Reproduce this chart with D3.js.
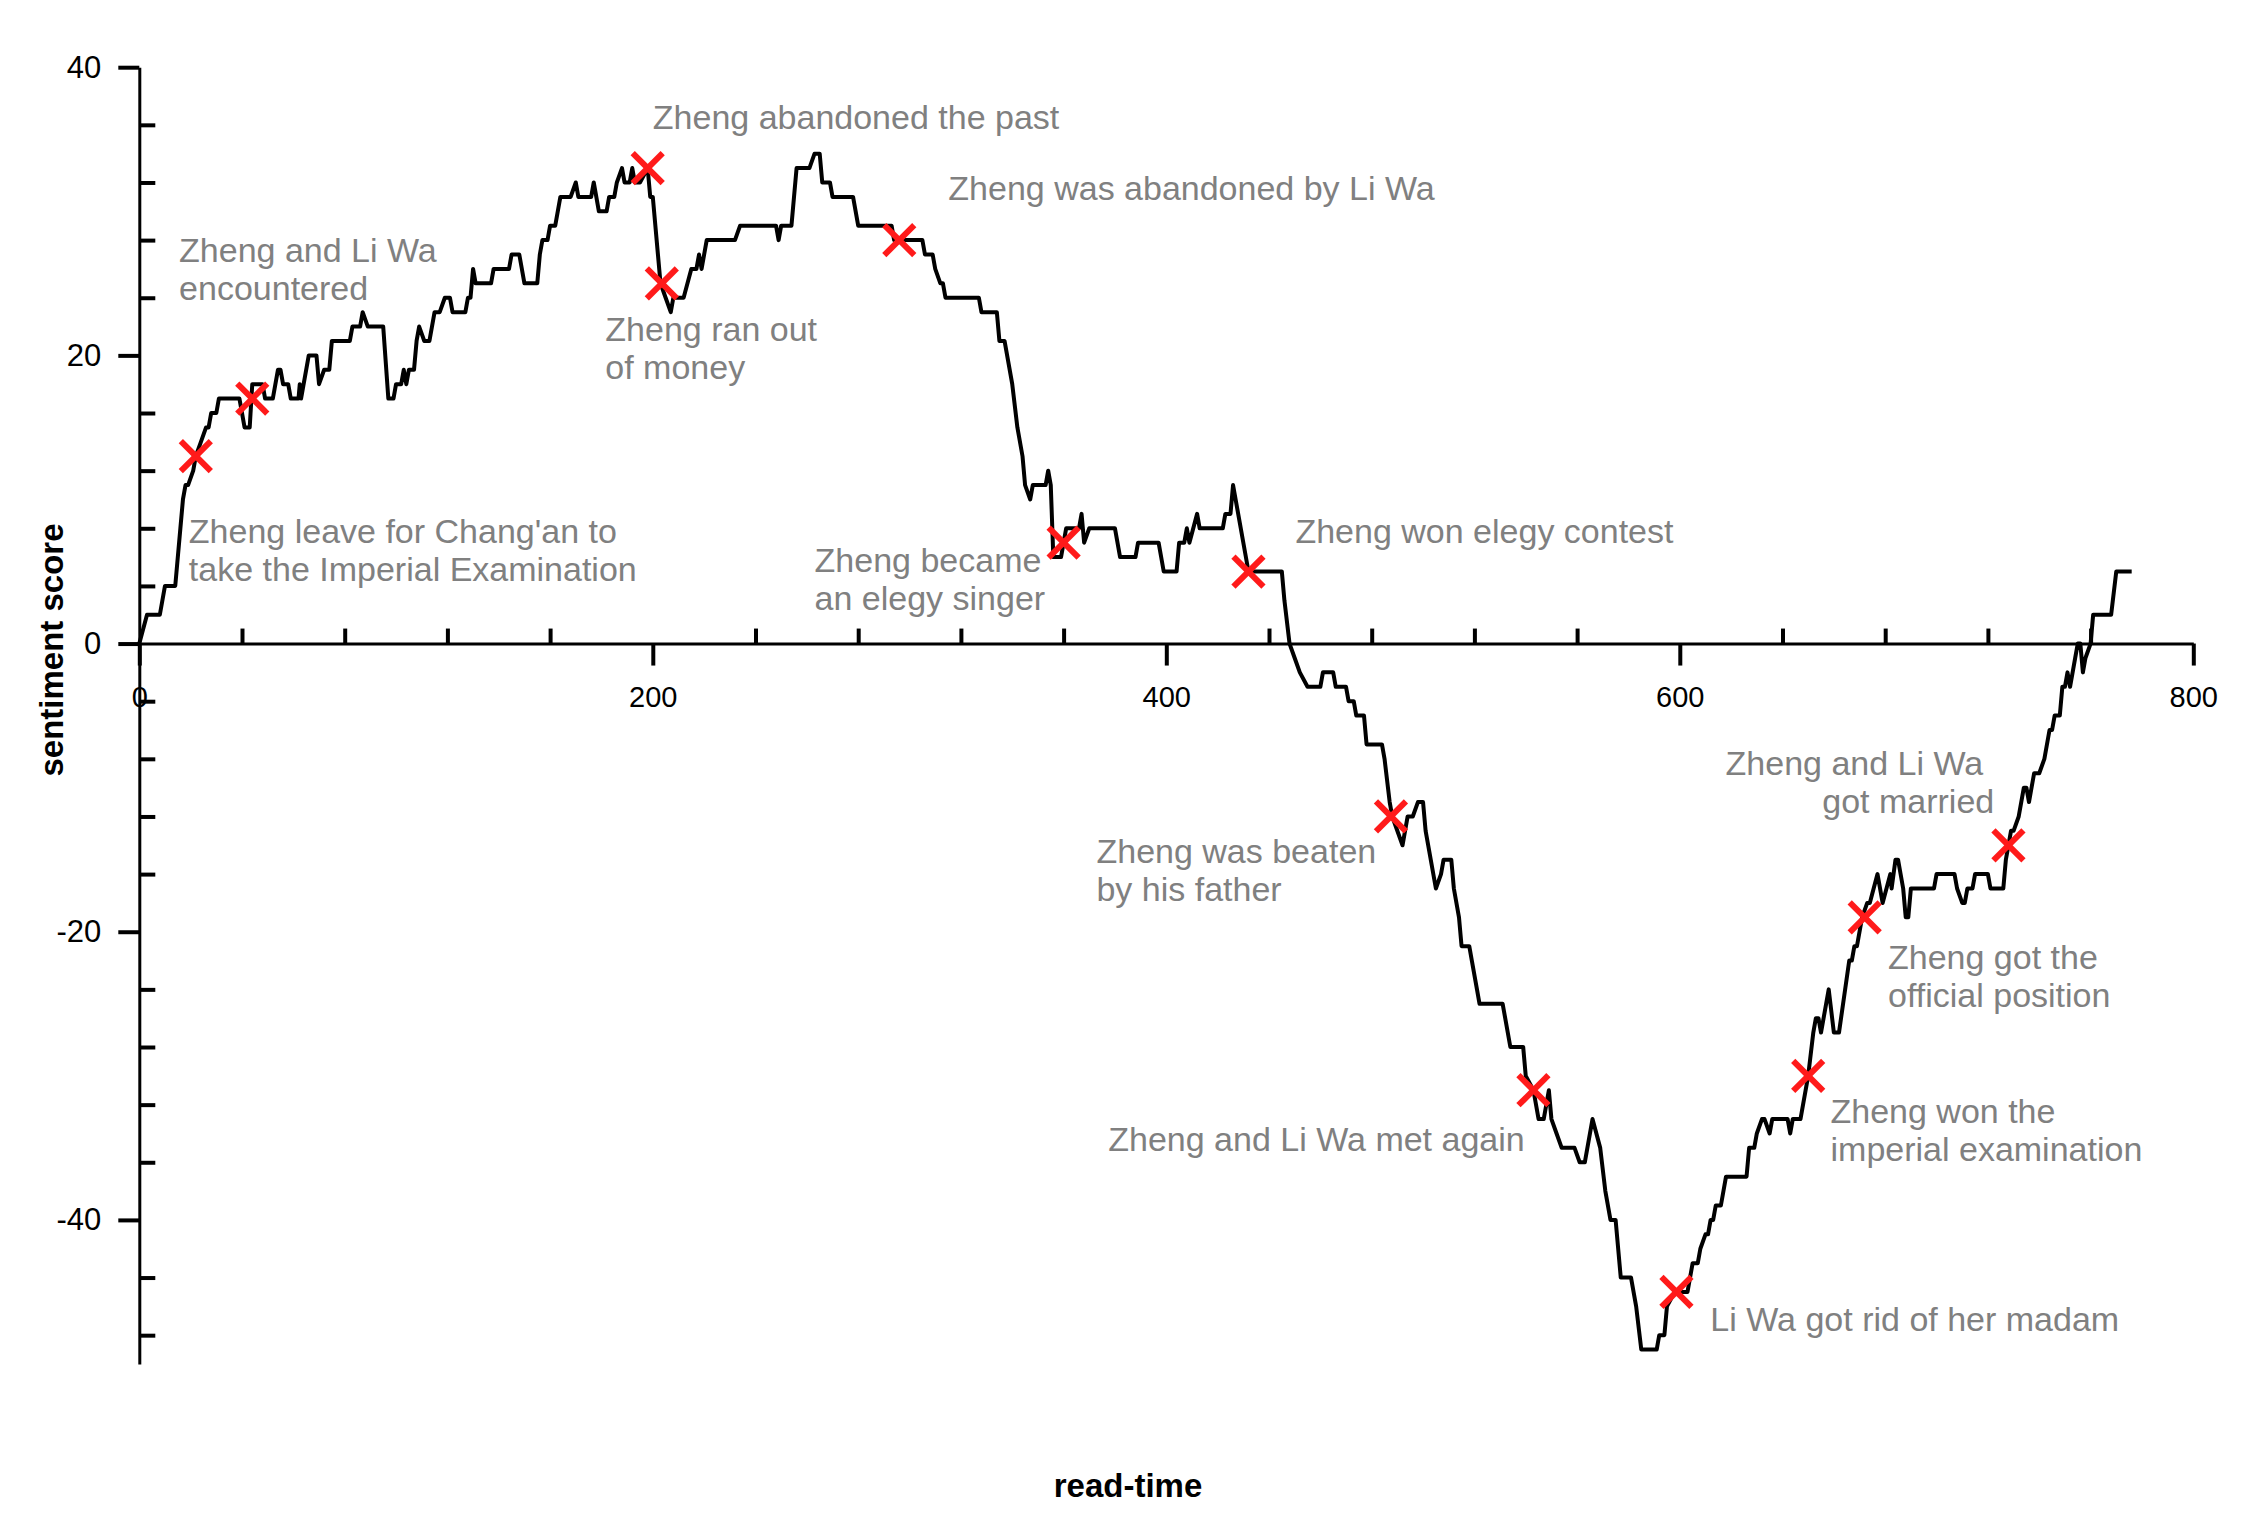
<!DOCTYPE html>
<html>
<head>
<meta charset="utf-8">
<script src="https://cdn.jsdelivr.net/npm/d3@7"></script>
<style>
  html, body { margin: 0; padding: 0; background: #fff; }
  svg { display: block; }
  text { font-family: Arial, "Liberation Sans", sans-serif; }
</style>
</head>
<body>
<svg id="chart" width="2250" height="1539"></svg>
<script>
// ---------------- data ----------------
const readTime = [0,3,8,10,14,16,17,18,19,21,22,24,26,27,28,30,31,39,41,43,44,48,49,52,54,55,56,58,59,62,62.5,63,66,69,70,72,74,75,82,83,86,87,89,95,97,99,100,102,103,104,105,107,108,109,111,113,115,117,119,121,122,127,128,129,130,131,137,138,144,145,148,150,155,156,157,159,160,162,164,168,170,171,176,177,179,182,183,185,186,188,189,191,192,193,195,198,199,200,202,203,205,207,208,212,215,217,218,219,221,232,234,248,249,250,254,256,261,263,265,266,269,270,278,280,293,294,305,306,309,310,312,313,314,327,328,334,335,337,340,342,344,345,347,348,353,354,355,356,359,361,366,367,368,370,380,382,388,389,397,399,404,405,407,408,409,412,413,422,423,425,426,428,432,445,446,448,450,452,455,460,461,465,466,470,471,473,474,477,478,484,485,487,488,492,494,496,498,500,501,505,507,508,511,512,514,515,518,519,521,522,531,534,539,540,543,545,547,549,550,552,554,559,561,563,566,569,571,573,575,577,581,583,585,591,592,594,595,598,603,605,607,608,610,611,612,613,614,616,618,626,627,629,630,632,633,635,636,642,643,644,647,650,652,653,654,655,658,660,662,666,667,668,669,671,673,674,677,679,682,682.5,684,685,687,688,689,690,699,700,707,708,710,711,712,714,715,720,721,726,727,728,729,730,732,734,735,736,738,740,742,744,745,746,748,749,750,751,752,754,755,756,757,758,760,761,768,770,776];
const sentiment = [0,2,2,4,4,8,10,11,11,12,13,14,15,15,16,16,17,17,15,15,18,18,17,17,19,19,18,18,17,17,18,17,20,20,18,19,19,21,21,22,22,23,22,22,17,17,18,18,19,18,19,19,21,22,21,21,23,23,24,24,23,23,24,24,26,25,25,26,26,27,27,25,25,27,28,28,29,29,31,31,32,31,31,32,30,30,31,31,32,33,32,32,33,32,32,33,31,31,27,25,24,23,24,24,26,26,27,26,28,28,29,29,28,29,29,33,33,34,34,32,32,31,31,29,29,28,28,27,27,26,25,25,24,24,23,23,21,21,18,15,13,11,10,11,11,12,11,6,6,8,8,9,7,8,8,6,6,7,7,5,5,7,7,8,7,9,8,8,9,9,11,9,5,5,3,0,-1,-2,-3,-3,-2,-2,-3,-3,-4,-4,-5,-5,-7,-7,-8,-11,-12,-14,-12,-12,-11,-11,-13,-17,-16,-15,-15,-17,-19,-21,-21,-22,-24,-25,-25,-28,-28,-30,-31,-33,-33,-31,-33,-34,-35,-35,-36,-36,-33,-35,-38,-40,-40,-44,-44,-46,-49,-49,-48,-48,-46,-45,-45,-43,-43,-42,-41,-41,-40,-40,-39,-39,-37,-37,-35,-35,-34,-33,-33,-34,-33,-33,-34,-33,-33,-30,-27,-26,-26,-27,-24,-27,-27,-22,-22,-21,-21,-19,-18,-18,-16,-18,-16,-17,-15,-15,-17,-19,-19,-17,-17,-16,-16,-17,-18,-18,-17,-17,-16,-16,-17,-17,-15,-14,-13,-13,-12,-10,-10,-11,-9,-9,-8,-6,-6,-5,-5,-3,-3,-2,-3,-1,0,0,-2,-1,0,2,2,5,5];

const eventTime  = [22, 44, 198, 203.5, 296, 360, 432, 487.5, 543, 598.7, 650, 672, 728];
const eventScore = [13, 17, 33, 25, 28, 7, 5, -12, -31, -45, -30, -19, -14];
const eventLabel = [
  ["Zheng leave for Chang'an to", "take the Imperial Examination"],
  ["Zheng and Li Wa", "encountered"],
  ["Zheng abandoned the past"],
  ["Zheng ran out", "of money"],
  ["Zheng was abandoned by Li Wa"],
  ["Zheng became", "an elegy singer"],
  ["Zheng won elegy contest"],
  ["Zheng was beaten", "by his father"],
  ["Zheng and Li Wa met again"],
  ["Li Wa got rid of her madam"],
  ["Zheng won the", "imperial examination"],
  ["Zheng got the", "official position"],
  ["Zheng and Li Wa", "got married"]
];

const xMajorTicks = [0, 200, 400, 600, 800];
const yMajorTicks = [-40, -20, 0, 20, 40];

// ---------------- layout (label anchors in data units, per-line pixel nudges) ----------------
const labelAt = [
  {x: 19.3, y: 7.0, anchor: "start"},
  {x: 15.5, y: 26.5, anchor: "start"},
  {x: 200.0, y: 35.7, anchor: "start"},
  {x: 181.5, y: 21.0, anchor: "start"},
  {x: 315.1, y: 30.8, anchor: "start"},
  {x: 263.0, y: 5.0, anchor: "start"},
  {x: 450.3, y: 7.0, anchor: "start"},
  {x: 372.8, y: -15.2, anchor: "start"},
  {x: 377.4, y: -35.2, anchor: "start"},
  {x: 611.9, y: -47.7, anchor: "start"},
  {x: 658.7, y: -33.3, anchor: "start"},
  {x: 681.1, y: -22.6, anchor: "start"},
  {x: 721.3, y: -9.1, anchor: "end", nudge: [-8, 3]}
];

// ---------------- drawing ----------------
const svg = d3.select("#chart");
svg.append("rect").attr("width", 2250).attr("height", 1539).attr("fill", "#fff");

const x = d3.scaleLinear().domain([0, 800]).range([139.3, 2193.3]);
const y = d3.scaleLinear().domain([-50, 40]).range([1364, 67.2]);

const xMinor = d3.range(0, 801, 40).filter(v => !xMajorTicks.includes(v));
const yMinor = d3.range(-48, 41, 4).filter(v => !yMajorTicks.includes(v));
const plainFmt = v => String(v);   // hyphen-minus as in the original

// y axis
const gy = svg.append("g").attr("transform", `translate(${x(0)},0)`);
gy.call(d3.axisLeft(y).tickValues(yMajorTicks).tickSize(21).tickSizeOuter(0).tickPadding(17).tickFormat(plainFmt));
gy.append("g").call(d3.axisRight(y).tickValues(yMinor).tickSize(16).tickSizeOuter(0).tickFormat(""))
  .select(".domain").remove();
gy.selectAll(".domain").attr("stroke", "#000").attr("stroke-width", 3);
gy.selectAll(".tick line").attr("stroke", "#000").attr("stroke-width", 4);
gy.selectAll(".tick text").attr("fill", "#000").style("font-size", "31px");

// x axis
const gx = svg.append("g").attr("transform", `translate(0,${y(0)})`);
gx.call(d3.axisBottom(x).tickValues(xMajorTicks).tickSize(22).tickSizeOuter(0).tickPadding(21).tickFormat(plainFmt));
gx.append("g").call(d3.axisTop(x).tickValues(xMinor).tickSize(15).tickSizeOuter(0).tickFormat(""))
  .select(".domain").remove();
gx.selectAll(".domain").attr("stroke", "#000").attr("stroke-width", 3);
gx.selectAll(".tick line").attr("stroke", "#000").attr("stroke-width", 4);
gx.selectAll(".tick text").attr("fill", "#000").style("font-size", "29px");

// axis titles
svg.append("text")
  .attr("x", 1128).attr("y", 1497)
  .attr("text-anchor", "middle")
  .style("font-size", "33px").style("font-weight", "bold")
  .text("read-time");
svg.append("text")
  .attr("transform", "translate(63,650) rotate(-90)")
  .attr("text-anchor", "middle")
  .style("font-size", "33px").style("font-weight", "bold")
  .text("sentiment score");

// sentiment line
const series = readTime.map((t, i) => ({t, s: sentiment[i]}));
svg.append("path")
  .datum(series)
  .attr("fill", "none")
  .attr("stroke", "#000")
  .attr("stroke-width", 4)
  .attr("stroke-linejoin", "round")
  .attr("d", d3.line().x(d => x(d.t)).y(d => y(d.s)));

// event markers (red crosses)
const events = eventTime.map((t, i) => ({t, s: eventScore[i], lines: eventLabel[i], pos: labelAt[i]}));
const half = 15;
const mk = svg.append("g").selectAll("g").data(events).join("g")
  .attr("transform", d => `translate(${x(d.t)},${y(d.s)})`);
mk.append("line").attr("x1", -half).attr("y1", -half).attr("x2", half).attr("y2", half);
mk.append("line").attr("x1", -half).attr("y1", half).attr("x2", half).attr("y2", -half);
mk.selectAll("line").attr("stroke", "#ff1a1a").attr("stroke-width", 6);

// event labels
const lbl = svg.append("g").selectAll("text").data(events).join("text")
  .attr("x", d => x(d.pos.x))
  .attr("y", d => y(d.pos.y))
  .attr("text-anchor", d => d.pos.anchor)
  .attr("fill", "#808080")
  .style("font-size", "34px");
lbl.selectAll("tspan")
  .data(d => d.lines.map((l, i) => ({l, i, x: x(d.pos.x) + (d.pos.nudge ? d.pos.nudge[i] : 0)})))
  .join("tspan")
  .attr("x", d => d.x)
  .attr("dy", d => d.i === 0 ? 0 : 38)
  .text(d => d.l);
</script>
</body>
</html>
